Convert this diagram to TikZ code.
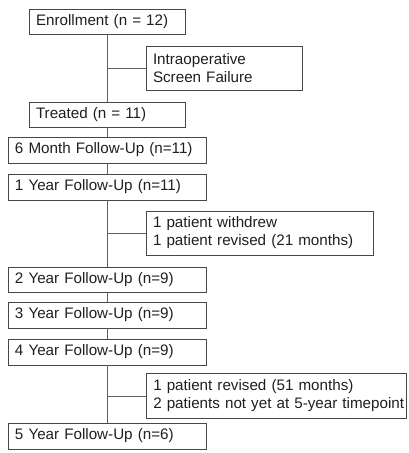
\documentclass[tikz,border=0pt]{standalone}
\usepackage{fontspec}
\setmainfont{Liberation Sans}
\begin{document}
\begin{tikzpicture}[x=1pt,y=-1pt,
  box/.style={draw=black!72, line width=0.9pt, inner xsep=7pt, inner ysep=0pt, align=left,
    font=\fontsize{15.2}{18}\selectfont, text=black!88, anchor=center},
  link/.style={draw=black!62, line width=0.9pt}]
\useasboundingbox (0,0) rectangle (409,453);
\node[box, text width=142pt, minimum height=25pt] (enr) at (107,21.5) {Enrollment (n = 12)};
\node[box, text width=142pt, minimum height=44pt] (intra) at (224,68) {Intraoperative\\Screen Failure};
\node[box, text width=142pt, minimum height=25pt] (trt) at (107,114.5) {Treated (n = 11)};
\node[box, text width=184pt, minimum height=26pt] (m6) at (107,150) {6 Month Follow-Up (n=11)};
\node[box, text width=184pt, minimum height=26pt] (y1) at (107,187) {1 Year Follow-Up (n=11)};
\node[box, text width=213pt, minimum height=44pt] (wd) at (259.5,233) {1 patient withdrew\\1 patient revised (21 months)};
\node[box, text width=184pt, minimum height=25pt] (y2) at (107,279.5) {2 Year Follow-Up (n=9)};
\node[box, text width=184pt, minimum height=26pt] (y3) at (107,315) {3 Year Follow-Up (n=9)};
\node[box, text width=184pt, minimum height=26pt] (y4) at (107,352) {4 Year Follow-Up (n=9)};
\node[box, text width=246.5pt, minimum height=45pt] (rev) at (276.5,396) {\mbox{1 patient revised (51 months)}\\\mbox{2 patients not yet at 5-year timepoint}};
\node[box, text width=184pt, minimum height=26pt] (y5) at (107,436) {5 Year Follow-Up (n=6)};
\coordinate (b1) at (107,68);
\coordinate (b2) at (107,233);
\coordinate (b3) at (107,396);
\draw[link] (enr.south) -- (trt.north);
\draw[link] (b1) -- (intra.west);
\draw[link] (trt.south) -- (m6.north);
\draw[link] (m6.south) -- (y1.north);
\draw[link] (y1.south) -- (y2.north);
\draw[link] (b2) -- (wd.west);
\draw[link] (y2.south) -- (y3.north);
\draw[link] (y3.south) -- (y4.north);
\draw[link] (y4.south) -- (y5.north);
\draw[link] (b3) -- (rev.west);
\end{tikzpicture}
\end{document}
